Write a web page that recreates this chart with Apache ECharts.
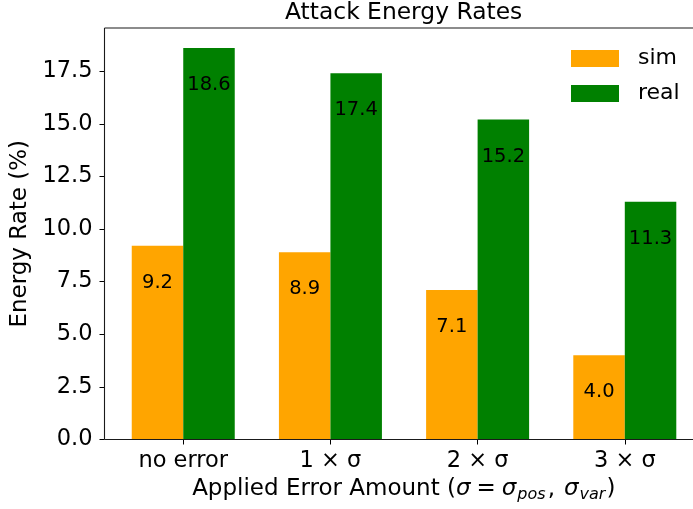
<!DOCTYPE html>
<html>
<head>
<meta charset="utf-8">
<script src="https://cdn.jsdelivr.net/npm/echarts@6/dist/echarts.min.js"></script>
<style>
  html, body { margin: 0; padding: 0; background: #ffffff; }
  #chart { width: 693px; height: 509px; }
</style>
</head>
<body>
<div id="chart"></div>
<script>
// Attack energy rates per applied error level
const categories = ['no error', '1 × σ', '2 × σ', '3 × σ'];
const simRates = [9.2, 8.9, 7.1, 4.0];
const realRates = [18.6, 17.4, 15.2, 11.3];
const yTicks = [0, 2.5, 5, 7.5, 10, 12.5, 15, 17.5];
const xTicks = [0, 1, 2, 3];

const FONT = 'DejaVu Sans';
const SIM_COLOR = '#FFA500';
const REAL_COLOR = '#008000';
const SPINE = { stroke: '#1a1a1a', lineWidth: 1.1 };

// x range: 0.35-wide bar pairs with a small side padding; the right
// spine falls just past the visible page edge
const X_MIN = -0.535, X_MAX = 3.477;
const Y_MAX = 19.55;

const chart = echarts.init(document.getElementById('chart'), null, { renderer: 'canvas' });

function pairs(values) {
  return values.map((v, i) => [i, v]);
}

const barLabel = {
  show: true,
  position: 'insideTop',
  distance: 27,
  color: '#000',
  fontFamily: FONT,
  fontSize: 19.5,
  formatter: p => p.value[1].toFixed(1)
};

// left, top and bottom spines of the plot frame, placed through the axes
function renderFrame(params, api) {
  const bl = api.coord([X_MIN, 0]);
  const tl = api.coord([X_MIN, Y_MAX]);
  const tr = api.coord([X_MAX, Y_MAX]);
  const br = api.coord([X_MAX, 0]);
  const seg = (a, b) => ({
    type: 'line',
    shape: { x1: a[0], y1: a[1], x2: b[0], y2: b[1] },
    style: SPINE
  });
  return { type: 'group', children: [seg(bl, tl), seg(tl, tr), seg(bl, br)] };
}

chart.setOption({
  animation: false,
  backgroundColor: '#ffffff',
  title: {
    text: 'Attack Energy Rates',
    left: 285,
    top: 1,
    padding: 0,
    textStyle: { fontFamily: FONT, fontSize: 23.4, fontWeight: 'normal', color: '#000' }
  },
  legend: {
    orient: 'vertical',
    left: 571,
    top: 47.5,
    padding: 0,
    itemWidth: 48,
    itemHeight: 17,
    itemGap: 13,
    icon: 'rect',
    textStyle: { fontFamily: FONT, fontSize: 22, color: '#000', padding: [0, 0, 0, 14] },
    data: ['sim', 'real']
  },
  grid: {
    left: 104.5,
    top: 28,
    width: 590.5,
    height: 411.5,
    outerBoundsMode: 'none',
    containLabel: false,
    show: false
  },
  xAxis: {
    type: 'value',
    min: X_MIN,
    max: X_MAX,
    splitLine: { show: false },
    axisLine: { show: false, onZero: false },
    axisTick: {
      show: true,
      customValues: xTicks,
      length: 5,
      lineStyle: { color: '#000', width: 1 }
    },
    axisLabel: {
      customValues: xTicks,
      margin: 10,
      fontFamily: FONT,
      fontSize: 22.5,
      color: '#000',
      formatter: v => categories[Math.round(v)]
    },
    name: '{t|Applied Error Amount (}{i|σ}{e|=}{i|σ}{s|pos}{c|,}{i|σ}{s|var}{t|)}',
    nameLocation: 'middle',
    nameGap: 36,
    nameTextStyle: {
      fontFamily: FONT,
      fontSize: 23,
      color: '#000',
      padding: [0, 0, 0, 8],
      rich: {
        t: { fontFamily: FONT, fontSize: 23, color: '#000', lineHeight: 27 },
        e: { fontFamily: FONT, fontSize: 23, color: '#000', lineHeight: 27, padding: [0, 6, 0, 6] },
        c: { fontFamily: FONT, fontSize: 23, color: '#000', lineHeight: 27, padding: [0, 9, 0, 1] },
        i: { fontFamily: FONT, fontSize: 23, color: '#000', fontStyle: 'italic', lineHeight: 27 },
        s: { fontFamily: FONT, fontSize: 16, color: '#000', fontStyle: 'italic', lineHeight: 14, verticalAlign: 'bottom', padding: [0, 1, 0, 1] }
      }
    }
  },
  yAxis: {
    type: 'value',
    min: 0,
    max: Y_MAX,
    splitLine: { show: false },
    axisLine: { show: false, onZero: false },
    axisTick: {
      show: true,
      customValues: yTicks,
      length: 5,
      lineStyle: { color: '#000', width: 1 }
    },
    axisLabel: {
      customValues: yTicks,
      margin: 12,
      fontFamily: FONT,
      fontSize: 22.5,
      color: '#000',
      formatter: v => v.toFixed(1)
    },
    name: 'Energy Rate (%)',
    nameLocation: 'middle',
    nameGap: 69,
    nameTextStyle: { fontFamily: FONT, fontSize: 23, color: '#000' }
  },
  series: [
    {
      name: 'sim',
      type: 'bar',
      data: pairs(simRates),
      barWidth: 51.5,
      barGap: '0%',
      itemStyle: { color: SIM_COLOR },
      label: barLabel
    },
    {
      name: 'real',
      type: 'bar',
      data: pairs(realRates),
      barWidth: 51.5,
      barGap: '0%',
      itemStyle: { color: REAL_COLOR },
      label: barLabel
    },
    {
      name: 'frame',
      type: 'custom',
      silent: true,
      clip: false,
      z: 5,
      data: [[0, 0]],
      renderItem: renderFrame
    }
  ]
});
</script>
</body>
</html>
